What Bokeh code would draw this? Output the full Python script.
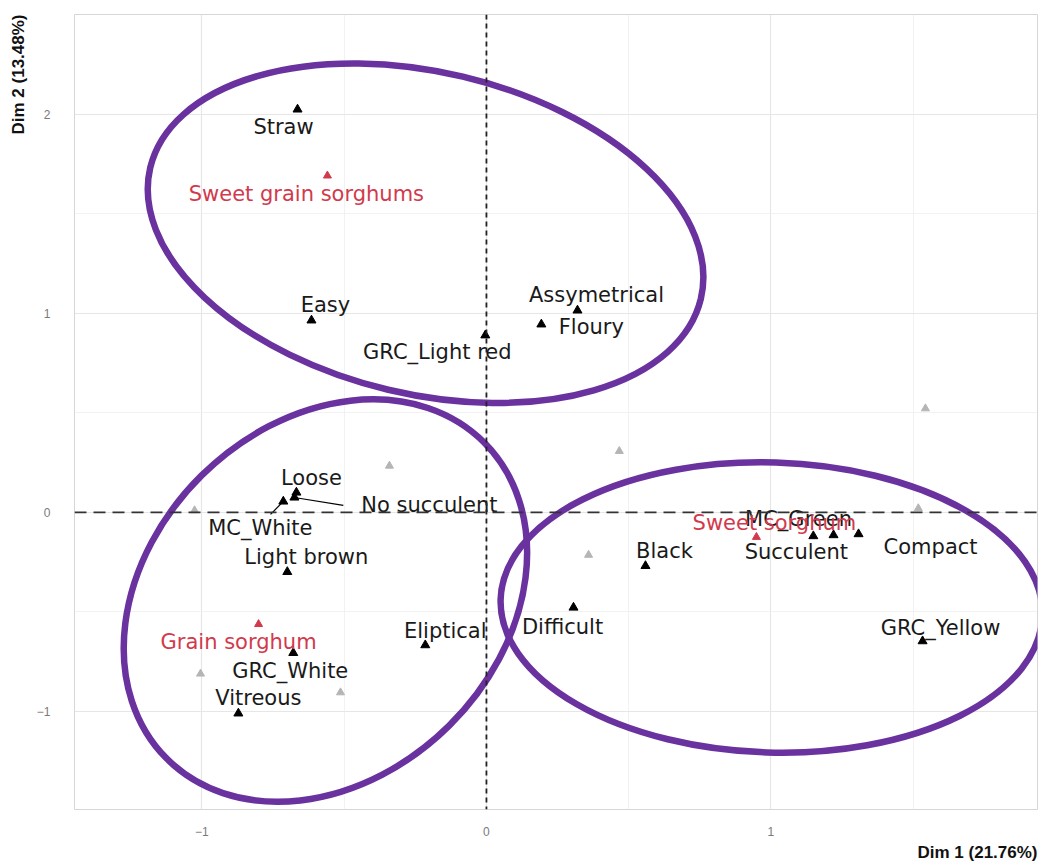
from bokeh.plotting import figure
from bokeh.models import ColumnDataSource, Span, FixedTicker, Title
from bokeh.core.properties import value
from bokeh.embed import file_html
from bokeh.resources import INLINE

# Active category coordinates on the first two dimensions
cat_names = ["Straw", "Easy", "GRC_Light red", "Assymetrical", "Floury", "Loose",
             "MC_White", "No succulent", "Light brown", "GRC_White", "Vitreous",
             "Eliptical", "Difficult", "Black", "MC_Green", "Succulent", "Compact",
             "GRC_Yellow"]
cat_dim1 = [-0.664, -0.615, -0.004, 0.320, 0.193, -0.668, -0.714, -0.675, -0.700,
            -0.679, -0.872, -0.215, 0.306, 0.559, 1.220, 1.149, 1.308, 1.533]
cat_dim2 = [2.025, 0.965, 0.890, 1.015, 0.945, 0.100, 0.055, 0.075, -0.299,
            -0.706, -1.010, -0.667, -0.478, -0.269, -0.114, -0.119, -0.109, -0.647]

# Supplementary groups (sorghum types)
grp_names = ["Sweet grain sorghums", "Grain sorghum", "Sweet sorghum"]
grp_dim1 = [-0.559, -0.801, 0.949]
grp_dim2 = [1.692, -0.562, -0.124]

# Unlabelled categories
oth_dim1 = [-0.341, 0.467, 1.543, -1.026, 1.518, -1.005, -0.513, 0.359]
oth_dim2 = [0.234, 0.308, 0.522, 0.010, 0.020, -0.811, -0.905, -0.214]

# Group ellipses: centres in data units
ell_x = [-0.214, -0.566, 1.002]
ell_y = [1.403, -0.443, -0.478]

x_ticks = [-1, 0, 1]
y_ticks = [-1, 0, 1, 2]

# Label placement (screen pixels, + = right / down)
cat_dx = [-14, 14, -48, 19, 50, 15, -23, 135, 19, -3, 20, 20, -11, 19, -35, -17, 72, 18]
cat_dy = [18, -15, 17, -15, 3, -14, 27, 8, -15, 18, -15, -14, 19, -15, -16, 16, 13, -13]
grp_dx = [-21, -20, 18]
grp_dy = [18, 18, -14]

PURPLE = "#6a329f"
RED = "#d13a4d"

p = figure(width=1052, height=863, output_backend="svg", toolbar_location=None,
           x_range=(-1.448, 1.937), y_range=(-1.493, 2.502),
           min_border_left=74, min_border_right=15, min_border_top=14,
           min_border_bottom=46, background_fill_color="white",
           border_fill_color="white")

p.outline_line_color = "#d6d6d6"
p.outline_line_width = 1

for ax in (p.xaxis[0], p.yaxis[0]):
    ax.axis_line_color = None
    ax.major_tick_line_color = None
    ax.minor_tick_line_color = None
    ax.major_label_text_font = "Liberation Sans"
    ax.major_label_text_font_size = "12px"
    ax.major_label_text_color = "#7a7a7a"
p.xaxis[0].ticker = FixedTicker(ticks=x_ticks, minor_ticks=[-0.5, 0.5, 1.5])
p.yaxis[0].ticker = FixedTicker(ticks=y_ticks, minor_ticks=[-0.5, 0.5, 1.5])
p.xaxis[0].major_label_standoff = 11
p.yaxis[0].major_label_standoff = 18
p.yaxis[0].major_label_orientation = "horizontal"

for g in (p.xgrid[0], p.ygrid[0]):
    g.grid_line_color = "#e6e6e6"
    g.grid_line_width = 1.2
    g.minor_grid_line_color = "#efefef"
    g.minor_grid_line_width = 0.8

p.add_layout(Title(text="Dim 1 (21.76%)", align="right", text_font="Liberation Sans",
                   text_font_size="17px", text_font_style="bold",
                   text_color="#111111", standoff=4), "below")
p.add_layout(Title(text="Dim 2 (13.48%)", align="right", text_font="Liberation Sans",
                   text_font_size="17px", text_font_style="bold",
                   text_color="#111111", standoff=12), "left")

# Reference lines at the origin
p.add_layout(Span(location=0, dimension="width", line_color="#333333",
                  line_width=1.6, line_dash="12 7"))
p.add_layout(Span(location=0, dimension="height", line_color="#222222",
                  line_width=1.8, line_dash="5 4"))

# Unlabelled categories
p.scatter(oth_dim1, oth_dim2, marker="triangle", size=8, color="#b5b5b5")

# Repel connector segments
seg = ColumnDataSource(dict(x0=[cat_dim1[6], cat_dim1[7]], y0=[cat_dim2[6], cat_dim2[7]],
                            x1=[-0.759, -0.503], y1=[-0.010, 0.035]))
p.segment(x0="x0", y0="y0", x1="x1", y1="y1", source=seg, line_color="black",
          line_width=1.2)

cats = ColumnDataSource(dict(x=cat_dim1, y=cat_dim2, name=cat_names,
                             dx=cat_dx, dy=cat_dy))
p.scatter("x", "y", source=cats, marker="triangle", size=9, color="black")
p.text("x", "y", text="name", source=cats, x_offset="dx", y_offset="dy",
       text_font=value("DejaVu Sans"), text_font_size="21px",
       text_color="#1a1a1a", text_align="center", text_baseline="middle")

grps = ColumnDataSource(dict(x=grp_dim1, y=grp_dim2, name=grp_names,
                             dx=grp_dx, dy=grp_dy))
p.scatter("x", "y", source=grps, marker="triangle", size=8, color=RED)
p.text("x", "y", text="name", source=grps, x_offset="dx", y_offset="dy",
       text_font=value("DejaVu Sans"), text_font_size="21px",
       text_color=RED, text_align="center", text_baseline="middle")

# Group ellipses (drawn in screen units)
p.ellipse(x=ell_x, y=ell_y, width=[566, 448, 542], height=[322, 352, 290],
          angle=[-0.234, 0.78, -0.03], width_units="screen", height_units="screen",
          fill_color=None, line_color=PURPLE, line_width=6.5)

open("out.html", "w").write(file_html(p, INLINE))
